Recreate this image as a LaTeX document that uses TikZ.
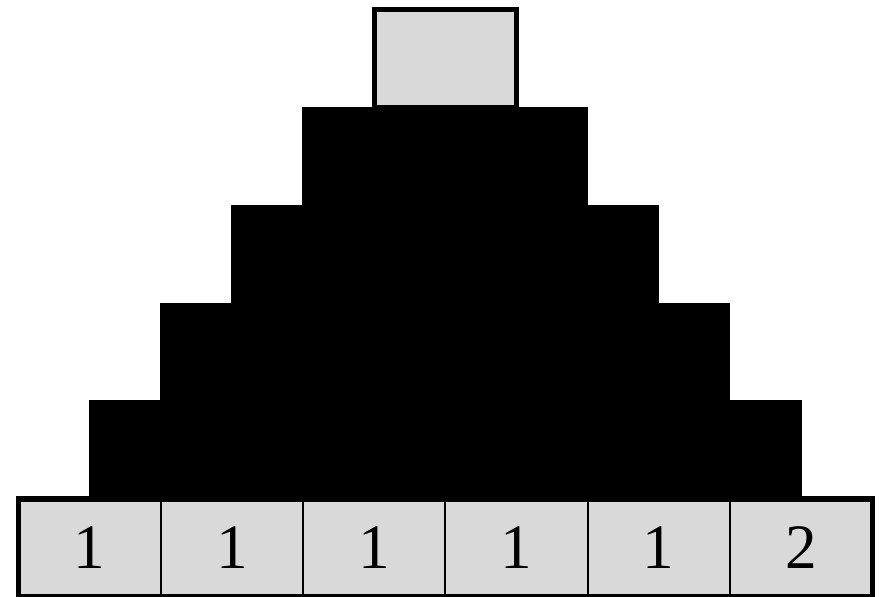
\documentclass[tikz,border=0pt]{standalone}
\usepackage{tikz}
\usepackage{fontspec}
\setmainfont{Liberation Serif}
\definecolor{cellgray}{gray}{0.85}
\tikzset{
  % grey cell of the bottom row
  cell/.style={rectangle,fill=cellgray,draw=black,line width=1.7pt,
    minimum width=4.2675cm,minimum height=2.934cm,inner sep=0pt,outer sep=0pt,
    font=\fontsize{54}{58}\selectfont},
  % black step of the pile
  block/.style={fill=black,draw=black,line width=1.2pt},
}
\begin{document}
\begin{tikzpicture}[x=4.2675cm,y=2.934cm]
\useasboundingbox (-0.130,0.008) rectangle (6.063,6.102);

% black steps
\foreach \k in {1,...,4}
  \draw[block] (\k/2,\k) rectangle (6-\k/2,\k+1);

% top box
\node[cell,line width=4.3pt] (top) at (3,5.5) {};

% bottom row
\foreach \n/\v in {1/1,2/1,3/1,4/1,5/1,6/2}
  \node[cell] (c\n) at (\n-0.5,0.5) {\v};
\draw[line width=4.3pt] (c1.south west) rectangle (c6.north east);

\end{tikzpicture}
\end{document}
